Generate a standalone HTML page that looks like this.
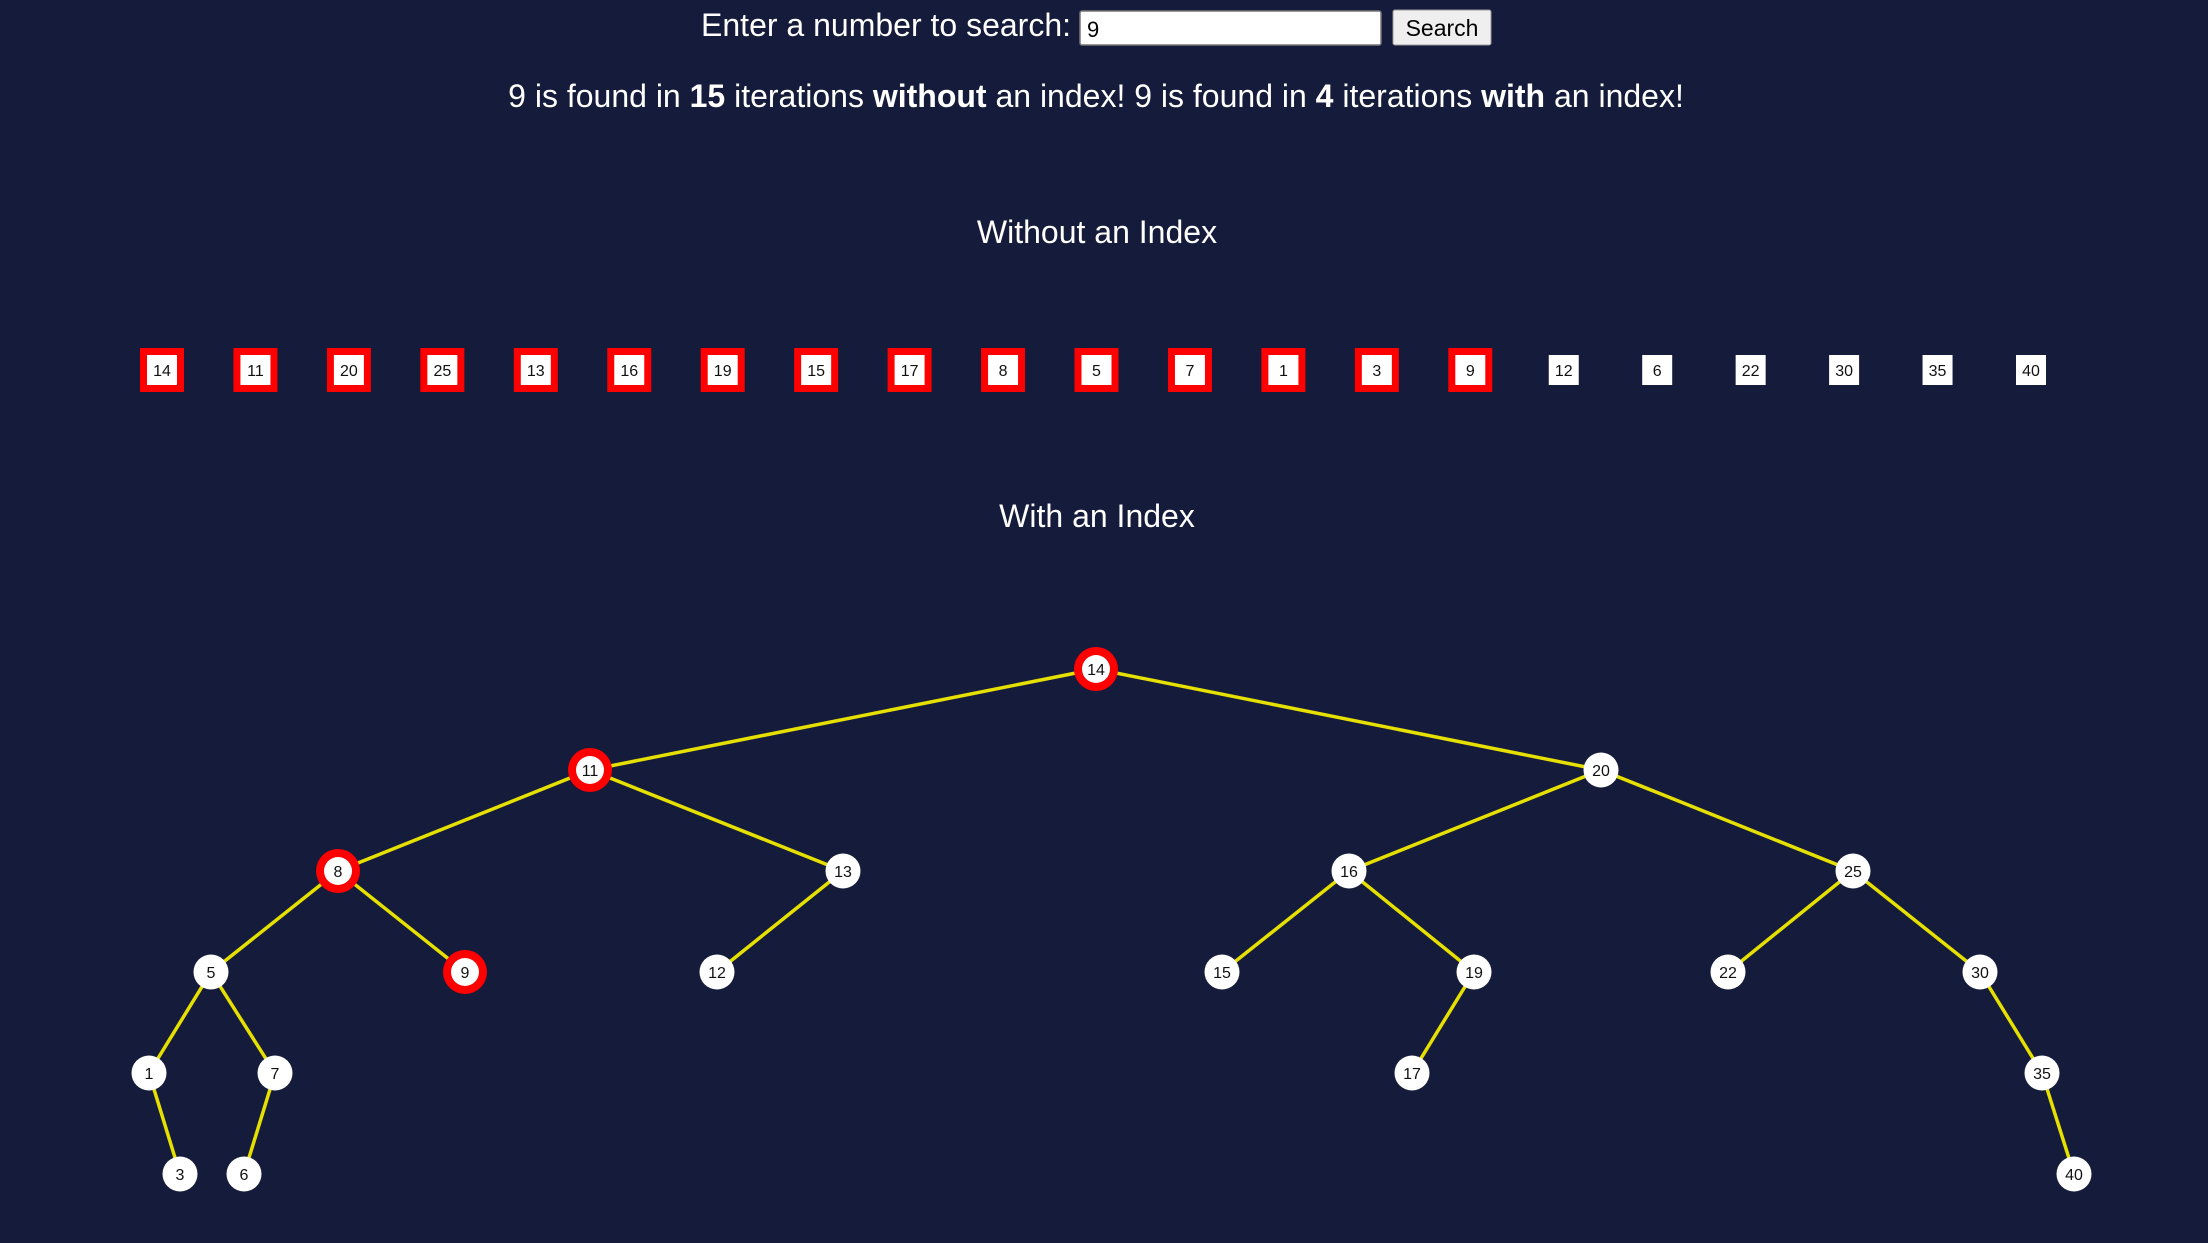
<!DOCTYPE html>
<html><head><meta charset="utf-8"><style>
html,body{margin:0;padding:0;background:#151b3a;width:2208px;height:1243px;overflow:hidden;font-family:"Liberation Sans",Arial,sans-serif;color:#fff}
svg{position:absolute;left:0;top:0}
</style></head><body>
<svg id="s" width="2208" height="1243">
<text x="1071" y="36" font-size="32" fill="#fff" text-anchor="end">Enter a number to search:</text>
<g>
<rect x="1080" y="11" width="301" height="34" fill="#fff" stroke="#767676" stroke-width="1.5" rx="2"/>
<text x="1087" y="37" font-size="22" fill="#000">9</text></g>
<g>
<rect x="1393" y="10" width="98" height="35" fill="#efefef" stroke="#999" stroke-width="1" rx="2"/>
<text x="1442" y="36" font-size="23" fill="#000" text-anchor="middle">Search</text></g>
<text x="1096" y="107" font-size="32" fill="#fff" text-anchor="middle">9 is found in <tspan font-weight="bold">15</tspan> iterations <tspan font-weight="bold">without</tspan> an index! 9 is found in <tspan font-weight="bold">4</tspan> iterations <tspan font-weight="bold">with</tspan> an index!</text>
<text x="1097" y="243" font-size="32" fill="#fff" text-anchor="middle">Without an Index</text>
<text x="1097" y="527" font-size="32" fill="#fff" text-anchor="middle">With an Index</text>
<g id="arr"></g><g id="edges"></g><g id="nodes"></g>
</svg>
<script>
const listValues=[14,11,20,25,13,16,19,15,17,8,5,7,1,3,9,12,6,22,30,35,40];
const visitedCount=15;
const treeValues=[14,11,20,8,13,16,25,5,9,12,15,19,22,30,1,7,17,35,3,6,40];
const treeParents=[null,14,14,11,11,20,20,8,8,13,16,16,25,25,5,5,19,30,1,7,35];
const treeDepth=[0,1,1,2,2,2,2,3,3,3,3,3,3,3,4,4,4,4,5,5,5];
const pathValues=[14,11,8,9];
const NS="http://www.w3.org/2000/svg";
function mk(t,a,p){const e=document.createElementNS(NS,t);for(const k in a)e.setAttribute(k,a[k]);p.appendChild(e);return e;}
const arr=document.getElementById('arr');
const ax=i=>162+i*93.45;
listValues.forEach((v,i)=>{
 const g=mk('g',{},arr);
 
 
 const hit=i<visitedCount;
 if(hit)mk('rect',{x:ax(i)-22,y:348,width:44,height:44,fill:'#ff0000'},g);
 mk('rect',{x:ax(i)-15,y:355,width:30,height:30,fill:'#fff'},g);
 const t=mk('text',{x:ax(i),y:376,'font-size':16,'text-anchor':'middle',fill:'#111'},g);t.textContent=v;
});
const byVal={};treeValues.forEach((v,i)=>byVal[v]={v,d:treeDepth[i],p:treeParents[i]});
const X={14:1096,11:590,20:1601,8:338,13:843,16:1349,25:1853,5:211,9:465,12:717,15:1222,19:1474,22:1728,30:1980,1:149,7:275,17:1412,35:2042,3:180,6:244,40:2074};
const ty=d=>669+d*101;
const eg=document.getElementById('edges'),ng=document.getElementById('nodes');
treeValues.forEach(v=>{const n=byVal[v];if(n.p==null)return;const p=byVal[n.p];
 const l=mk('line',{x1:X[p.v],y1:ty(p.d),x2:X[v],y2:ty(n.d),stroke:'#e6e000','stroke-width':3.5},eg);
 
 
});
treeValues.forEach(v=>{const n=byVal[v];
 const g=mk('g',{},ng);
 
 
 const hit=pathValues.includes(v);
 if(hit){mk('circle',{cx:X[v],cy:ty(n.d),r:22,fill:'#ff0000'},g);mk('circle',{cx:X[v],cy:ty(n.d),r:14,fill:'#fff'},g);}
 else mk('circle',{cx:X[v],cy:ty(n.d),r:17.5,fill:'#fff'},g);
 const t=mk('text',{x:X[v],y:ty(n.d)+6,'font-size':16,'text-anchor':'middle',fill:'#111'},g);t.textContent=v;
});
</script>
</body></html>
